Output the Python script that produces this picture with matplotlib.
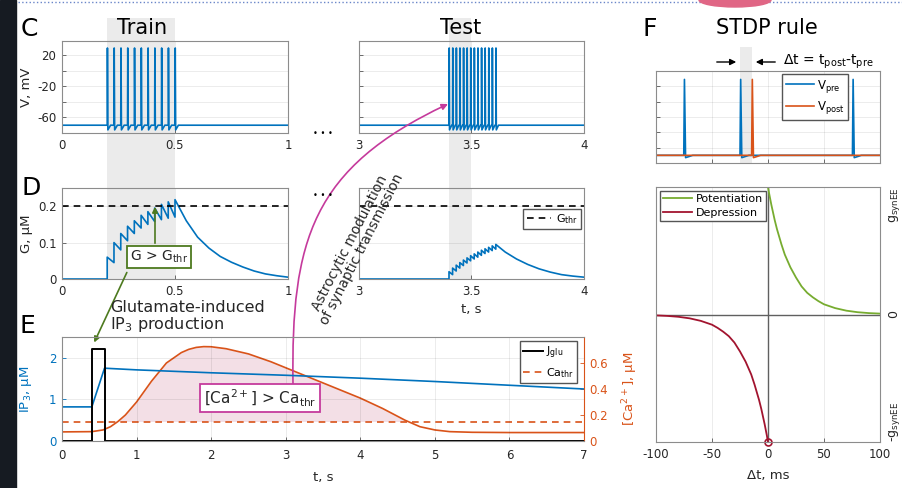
import matplotlib
matplotlib.use("Agg")
import numpy as np
import matplotlib.pyplot as plt
import matplotlib.transforms as mtransforms
from matplotlib.patches import Rectangle, FancyArrowPatch, Ellipse
from matplotlib.path import Path
from matplotlib.lines import Line2D

W, H = 903, 488
BLUE = '#0072bd'
ORANGE = '#d95319'
GREEN = '#77ac30'
DRED = '#a2142f'
OLIVE = '#4d7a1f'
MAG = '#c53a9c'
AXC = '#262626'

# ---- data ----
v_rest, v_peak, v_trough = -70, 29, -76
train_spikes = [0.200, 0.230, 0.260, 0.290, 0.320, 0.350, 0.380, 0.410, 0.440, 0.470, 0.500]
test_spikes = [3.400, 3.416, 3.432, 3.448, 3.464, 3.480, 3.496, 3.512, 3.528, 3.544, 3.560, 3.576, 3.592, 3.608]

g_thr = 0.2
g_train_peaks = [0.06, 0.10, 0.125, 0.145, 0.16, 0.175, 0.185, 0.195, 0.205, 0.212, 0.218]
g_train_troughs = [0.045, 0.08, 0.105, 0.125, 0.14, 0.15, 0.158, 0.163, 0.167, 0.17]
g_train_decay_t = [0.55, 0.60, 0.65, 0.70, 0.75, 0.80, 0.85, 0.90, 0.95, 1.00]
g_train_decay = [0.16, 0.115, 0.085, 0.062, 0.046, 0.033, 0.022, 0.014, 0.009, 0.005]

g_test_peaks = [0.02, 0.03, 0.038, 0.045, 0.052, 0.058, 0.064, 0.069, 0.074, 0.079, 0.083, 0.087, 0.091, 0.095]
g_test_troughs = [0.012, 0.022, 0.03, 0.037, 0.044, 0.05, 0.055, 0.06, 0.065, 0.07, 0.074, 0.078, 0.082]
g_test_decay_t = [3.65, 3.70, 3.75, 3.80, 3.85, 3.90, 3.95, 4.00]
g_test_decay = [0.074, 0.055, 0.04, 0.028, 0.019, 0.012, 0.008, 0.005]

ip3_t = [0, 0.4, 0.57, 1, 2, 3, 4, 5, 6, 7]
ip3 = [0.82, 0.82, 1.75, 1.71, 1.64, 1.58, 1.51, 1.43, 1.34, 1.25]
jglu_t = [0, 0.4, 0.4, 0.57, 0.57, 7]
jglu = [0, 0, 2.2, 2.2, 0, 0]
ca_thr = 0.15
ca_t = [0, 0.4, 0.55, 0.65, 0.75, 0.85, 1.0, 1.2, 1.4, 1.6, 1.7, 1.8, 1.9, 2.0, 2.2, 2.5, 2.8, 3.1,
        3.4, 3.7, 4.0, 4.3, 4.6, 4.8, 5.0, 5.2, 5.5, 6.0, 7.0]
ca = [0.07, 0.072, 0.085, 0.11, 0.15, 0.2, 0.3, 0.46, 0.6, 0.68, 0.705, 0.72, 0.726, 0.725, 0.71, 0.67, 0.61, 0.54,
      0.47, 0.4, 0.33, 0.25, 0.16, 0.11, 0.085, 0.072, 0.067, 0.065, 0.065]

pre_spikes = [12.4, 37.5, 87.7]
post_spikes = [42.7]

pot_dt = [0, 1, 2, 3, 4, 5, 6, 8, 10, 12, 15, 18, 20, 25, 30, 35, 40, 45, 50, 60, 70, 80, 90, 100]
pot_w = [1.0, 0.95, 0.905, 0.86, 0.82, 0.78, 0.74, 0.67, 0.61, 0.55, 0.47, 0.41, 0.37, 0.29, 0.22,
         0.17, 0.135, 0.105, 0.08, 0.05, 0.03, 0.018, 0.011, 0.007]
dep_dt = [-100, -90, -80, -70, -60, -50, -45, -40, -35, -30, -25, -20, -18, -15, -12, -10, -8, -6,
          -5, -4, -3, -2, -1, 0]
dep_w = [-0.007, -0.011, -0.018, -0.03, -0.05, -0.08, -0.105, -0.135, -0.17, -0.22, -0.29, -0.37,
         -0.41, -0.47, -0.55, -0.61, -0.67, -0.74, -0.78, -0.82, -0.86, -0.905, -0.95, -1.0]


def spike_trace(t0, t1, spikes, rise, fall, recover, trough):
    x = [t0]
    y = [v_rest]
    for s in spikes:
        x += [s, s + rise, s + rise + fall, s + recover]
        y += [v_rest, v_peak, trough, v_rest]
    x.append(t1)
    y.append(v_rest)
    return x, y


def saw_trace(t0, spikes, peaks, troughs, dec_t, dec_g):
    x = [t0, spikes[0]]
    y = [0, 0]
    for i, s in enumerate(spikes):
        if i > 0:
            x.append(s)
            y.append(troughs[i - 1])
        x.append(s)
        y.append(peaks[i])
    return x + dec_t, y + dec_g


def fxy(x, y):
    return x / W, 1 - y / H


def ax_at(x0, y0, x1, y1):
    ax = fig.add_axes([x0 / W, 1 - y1 / H, (x1 - x0) / W, (y1 - y0) / H])
    ax.set_facecolor('none')
    for sp in ax.spines.values():
        sp.set_color('#8c8c8c')
        sp.set_linewidth(0.8)
    ax.tick_params(direction='in', length=3, width=0.6, color='#555555',
                   labelcolor=AXC, labelsize=8.5, pad=4)
    ax.grid(True, color='black', alpha=0.09, lw=0.6)
    return ax


plt.rcParams['font.family'] = 'DejaVu Sans'
plt.rcParams['mathtext.default'] = 'regular'
plt.rcParams['axes.unicode_minus'] = False
fig = plt.figure(figsize=(W / 100, H / 100), dpi=100)

# screenshot frame bits
fig.add_artist(Rectangle((0, 0), 16 / W, 1, transform=fig.transFigure, color='#161b22', zorder=-5))
fig.add_artist(Line2D([18 / W, 1], [1 - 2 / H] * 2, transform=fig.transFigure,
                      ls=':', color='#6a86c9', lw=1))
fig.add_artist(Ellipse(fxy(735, 0), 72 / W, 14 / H, transform=fig.transFigure,
                       color='#e06685', zorder=2))

axC1 = ax_at(62, 41, 288, 133)
axC2 = ax_at(359, 41, 584, 133)
axD1 = ax_at(62, 188, 288, 279)
axD2 = ax_at(359, 188, 584, 279)
axE = ax_at(62, 337, 584, 441)
axF1 = ax_at(656, 71, 880, 163)
axF2 = ax_at(656, 187, 880, 442)

# shaded windows (x in data, y in figure)
for ax, x0, x1 in [(axC1, train_spikes[0], train_spikes[-1]),
                   (axC2, test_spikes[0], 3.5)]:
    tr = mtransforms.blended_transform_factory(ax.transData, fig.transFigure)
    fig.add_artist(Rectangle((x0, 1 - 279 / H), x1 - x0, (279 - 18) / H, transform=tr,
                             color='#ebebeb', zorder=-1, lw=0))
trF = mtransforms.blended_transform_factory(axF1.transData, fig.transFigure)
fig.add_artist(Rectangle((pre_spikes[1], 1 - 163 / H), post_spikes[0] - pre_spikes[1], (163 - 47) / H,
                         transform=trF, color='#ebebeb', zorder=-1, lw=0))

# ---- C ----
x, y = spike_trace(0, 1, train_spikes, 0.001, 0.002, 0.015, v_trough)
axC1.plot(x, y, color=BLUE, lw=1.2)
x, y = spike_trace(3, 4, test_spikes, 0.0008, 0.0015, 0.012, v_trough)
axC2.plot(x, y, color=BLUE, lw=1.2)
for ax, xt in [(axC1, [0, 0.5, 1]), (axC2, [3, 3.5, 4])]:
    ax.set_xlim(xt[0], xt[-1])
    ax.set_ylim(-80, 38)
    ax.set_xticks(xt)
    ax.set_xticklabels([f'{v:g}' for v in xt])
    ax.set_yticks([-60, -40, -20, 0, 20])
axC1.set_yticklabels(['-60', '', '-20', '', '20'])
axC2.set_yticklabels([])
axC1.set_ylabel('V, mV', fontsize=9.5, color=AXC)
axC1.yaxis.set_label_coords(-(62 - 33) / 226, 0.5)

# ---- D ----
x, y = saw_trace(0, train_spikes, g_train_peaks, g_train_troughs, g_train_decay_t, g_train_decay)
axD1.plot(x, y, color=BLUE, lw=1.2)
x, y = saw_trace(3, test_spikes, g_test_peaks, g_test_troughs, g_test_decay_t, g_test_decay)
axD2.plot(x, y, color=BLUE, lw=1.2)
for ax, xt in [(axD1, [0, 0.5, 1]), (axD2, [3, 3.5, 4])]:
    ax.axhline(g_thr, color='black', ls='--', lw=1.2, dashes=(4, 3), label='G$_{thr}$')
    ax.set_xlim(xt[0], xt[-1])
    ax.set_ylim(0, 0.25)
    ax.set_xticks(xt)
    ax.set_xticklabels([f'{v:g}' for v in xt])
    ax.set_yticks([0, 0.1, 0.2])
axD1.set_yticklabels(['0', '0.1', '0.2'])
axD2.set_yticklabels([])
axD1.set_ylabel('G, µM', fontsize=9.5, color=AXC)
axD1.yaxis.set_label_coords(-(62 - 33) / 226, 0.5)
axD2.set_xlabel('t, s', fontsize=9.5, color=AXC)
axD2.xaxis.set_label_coords(0.5, -(303 - 279) / 91)
axD2.legend(loc='upper right', bbox_to_anchor=((581 - 359) / 225, (279 - 209) / 91),
            fontsize=8, frameon=True, fancybox=False, edgecolor='#555555', framealpha=1,
            borderaxespad=0, handlelength=2.2, handletextpad=0.4, borderpad=0.3)

# ---- E ----
axE2 = axE.twinx()
axE.set_zorder(axE2.get_zorder() + 1)
axE.patch.set_visible(False)
ca_arr = np.array(ca)
axE2.fill_between(ca_t, ca_thr, ca_arr, where=ca_arr > ca_thr, interpolate=True,
                  color='#f3dfe6', lw=0)
axE2.plot(ca_t, ca, color=ORANGE, lw=1.2)
thr_line = axE2.axhline(ca_thr, color=ORANGE, ls='--', lw=1.2, dashes=(4, 3))
axE2.set_ylim(0, 0.8)
axE2.set_yticks([0, 0.2, 0.4, 0.6])
axE2.set_yticklabels(['0', '0.2', '0.4', '0.6'])
axE2.tick_params(direction='in', length=3, width=0.6, colors=ORANGE, labelsize=8.5, pad=4)
for sp in axE2.spines.values():
    sp.set_visible(False)
axE2.set_ylabel('[Ca$^{2+}$], µM', fontsize=9.5, color=ORANGE)
axE2.yaxis.set_label_coords(1 + (620 - 584) / 522, 0.5)

axE.plot(ip3_t, ip3, color=BLUE, lw=1.2)
jline, = axE.plot(jglu_t, jglu, color='black', lw=1.4)
axE.set_xlim(0, 7)
axE.set_ylim(0, 2.5)
axE.set_xticks(range(8))
axE.set_yticks([0, 1, 2])
axE.tick_params(axis='y', colors=BLUE, labelcolor=BLUE)
axE.tick_params(axis='x', pad=5.5)
axE.spines['right'].set_color(ORANGE)
axE.set_ylabel('IP$_3$, µM', fontsize=9.5, color=BLUE)
axE.yaxis.set_label_coords(-(62 - 34) / 522, 0.5)
axE.set_xlabel('t, s', fontsize=9.5, color=AXC)
axE.xaxis.set_label_coords(0.5, -(471 - 441) / 104)
axE.legend([jline, thr_line], ['J$_{glu}$', 'Ca$_{thr}$'], loc='upper right',
           bbox_to_anchor=((577 - 62) / 522, (441 - 341) / 104), fontsize=8,
           fancybox=False, edgecolor='#555555', framealpha=1, borderaxespad=0,
           handlelength=1.8, handletextpad=0.2, borderpad=0.3, labelspacing=0.5)

# ---- F top ----
x, y = spike_trace(0, 100, pre_spikes, 0.3, 0.5, 4, -73)
axF1.plot(x, y, color=BLUE, lw=1.2, label='V$_{pre}$')
x, y = spike_trace(0, 100, post_spikes, 0.3, 0.5, 4, -73)
axF1.plot(x, y, color=ORANGE, lw=1.2, label='V$_{post}$')
axF1.set_xlim(0, 100)
axF1.set_ylim(-80, 40)
axF1.set_xticks([0, 25, 50, 75, 100])
axF1.set_yticks([-60, -40, -20, 0, 20])
axF1.set_xticklabels([])
axF1.set_yticklabels([])
axF1.legend(loc='upper right', bbox_to_anchor=((848 - 656) / 224, (163 - 74) / 92),
            fontsize=8.5, fancybox=False, edgecolor='#555555', framealpha=1,
            borderaxespad=0, handlelength=2.4, handletextpad=0.2, borderpad=0.3,
            labelspacing=0.4)

# ---- F bottom ----
axF2.axhline(0, color='#606060', lw=1)
axF2.axvline(0, color='#606060', lw=1)
axF2.plot(pot_dt, pot_w, color=GREEN, lw=1.3, label='Potentiation')
axF2.plot(dep_dt, dep_w, color=DRED, lw=1.3, label='Depression')
axF2.plot(dep_dt[-1], dep_w[-1], 'o', ms=5, mfc='none', mec=DRED, mew=1.2, clip_on=False)
axF2.set_xlim(-100, 100)
axF2.set_ylim(-1, 1)
axF2.set_xticks([-100, -50, 0, 50, 100])
axF2.grid(False)
axF2.grid(True, axis='x', color='black', alpha=0.09, lw=0.6)
axF2.yaxis.tick_right()
axF2.set_yticks([-1, 0, 1])
axF2.set_yticklabels(['-g$_{synEE}$', '0', 'g$_{synEE}$'], rotation=90, fontsize=9)
for lbl, va in zip(axF2.get_yticklabels(), ['bottom', 'center', 'top']):
    lbl.set_va(va)
axF2.tick_params(axis='y', length=0, pad=5)
axF2.set_xlabel('Δt, ms', fontsize=9.5, color=AXC)
axF2.xaxis.set_label_coords(0.5, -(469 - 442) / 255)
axF2.legend(loc='upper left', bbox_to_anchor=((660 - 656) / 224, (442 - 191) / 255),
            fontsize=8, fancybox=False, edgecolor='#555555', framealpha=1,
            borderaxespad=0, handlelength=2.6, handletextpad=0.3, borderpad=0.3,
            labelspacing=0.3)

# ---- panel letters and titles ----
for lab, (px, py) in {'C': (29, 29), 'D': (31, 188), 'E': (27, 326), 'F': (650, 29)}.items():
    fig.text(*fxy(px, py), lab, fontsize=18, ha='center', va='center', color='black')
fig.text(*fxy(142, 28), 'Train', fontsize=15, ha='center', va='center')
fig.text(*fxy(461, 28), 'Test', fontsize=15, ha='center', va='center')
fig.text(*fxy(767, 28), 'STDP rule', fontsize=15, ha='center', va='center')
for py in (133, 196):
    fig.text(*fxy(323, py), '• • •', fontsize=6, ha='center', va='center')

# STDP delta-t arrows
for xa, xb in [(714, 739), (778, 753)]:
    fig.add_artist(FancyArrowPatch(fxy(xa, 62), fxy(xb, 62), transform=fig.transFigure,
                                   arrowstyle='-|>', mutation_scale=9, color='black', lw=1))
fig.text(*fxy(783, 62), 'Δt = t$_{post}$-t$_{pre}$', fontsize=10, ha='left', va='center')

# glutamate annotations
fig.text(*fxy(110, 317), 'Glutamate-induced\nIP$_3$ production', fontsize=11.5,
         ha='left', va='center', linespacing=0.95, color=AXC)
fig.text(*fxy(159, 257), 'G > G$_{thr}$', fontsize=10, ha='center', va='center', color=AXC,
         bbox=dict(boxstyle='square,pad=0.2', fc='white', ec=OLIVE, lw=1.3), zorder=5)
fig.add_artist(FancyArrowPatch(fxy(155, 246), fxy(155, 204), transform=fig.transFigure,
                               arrowstyle='-|>', mutation_scale=8, color=OLIVE, lw=1.2))
fig.add_artist(FancyArrowPatch(fxy(128, 270), fxy(93, 345), transform=fig.transFigure,
                               arrowstyle='-|>', mutation_scale=8, color=OLIVE, lw=1.2))

# astrocyte annotation
fig.text(*fxy(260, 398), '[Ca$^{2+}$] > Ca$_{thr}$', fontsize=11, ha='center', va='center',
         color=AXC, bbox=dict(boxstyle='square,pad=0.25', fc='white', ec=MAG, lw=1.3), zorder=5)
verts = [fxy(293, 384), fxy(291, 240), fxy(312, 168), fxy(448, 104)]
path = Path(verts, [Path.MOVETO, Path.CURVE4, Path.CURVE4, Path.CURVE4])
fig.add_artist(FancyArrowPatch(path=path, transform=fig.transFigure, arrowstyle='-|>',
                               mutation_scale=9, color=MAG, lw=1.2))
fig.text(*fxy(356, 246), 'Astrocytic modulation\nof synaptic transmission', fontsize=9.8,
         rotation=63, rotation_mode='anchor', ha='center', va='center', linespacing=0.9,
         color=AXC)

fig.savefig('out.png', dpi=100)
